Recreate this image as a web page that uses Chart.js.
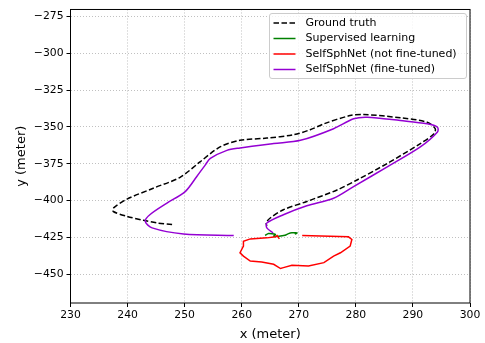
<!DOCTYPE html>
<html>
<head>
<meta charset="utf-8">
<script src="https://cdn.jsdelivr.net/npm/chart.js@4.4.1/dist/chart.umd.min.js"></script>
<style>
    html, body { margin: 0; padding: 0; background: #fff; }
    #wrap { width: 485px; height: 343px; }
</style>
</head>
<body>
<div id="wrap"><canvas id="chart"></canvas></div>
<script>

// Axis ticks
const xTicks = [ 230, 240, 250, 260, 270, 280, 290, 300 ];
const yTicks = [ -450, -425, -400, -375, -350, -325, -300, -275 ];

// Ground truth (dashed)
const gtX = [ 247.8, 245.2, 242.8, 239.8, 237.5, 237.5, 239.9, 244.5, 249.2, 252.7, 256.2, 259.7, 264.4, 269.1, 272.0, 274.4, 279.0, 281.4, 287.8, 292.5, 293.9, 293.7, 291.3, 285.5, 280.2, 276.7, 271.4, 267.3, 265.0, 264.3, 264.4 ];
const gtY = [ -416.3, -415.2, -413.4, -410.6, -407.4, -405.1, -399.0, -391.6, -384.2, -373.7, -363.6, -359.1, -357.6, -355.3, -351.9, -347.9, -342.3, -341.6, -343.8, -346.8, -351.2, -354.6, -361.3, -374.8, -386.0, -392.8, -400.6, -406.2, -411.8, -415.0, -417.2 ];

// Supervised learning
const slX = [ 264.1, 264.7, 265.9, 265.6, 266.5, 267.6, 268.2, 268.8, 269.7, 269.3 ];
const slY = [ -423.7, -422.4, -423.0, -424.2, -424.2, -423.5, -422.4, -421.9, -421.9, -422.8 ];

// SelfSphNet (not fine-tuned)
const nfX = [ 270.6, 275.5, 278.7, 279.3, 279.0, 277.3, 276.1, 274.4, 271.7, 268.8, 267.3, 266.8, 265.6, 263.5, 261.5, 260.3, 259.7, 260.3, 260.3, 261.5, 264.4, 265.9, 266.2, 266.6 ];
const nfY = [ -423.7, -424.2, -424.6, -426.4, -430.9, -435.4, -437.7, -442.1, -444.4, -443.9, -445.5, -446.1, -443.2, -441.7, -441.0, -437.7, -435.4, -430.9, -427.6, -426.0, -425.3, -424.6, -423.7, -426.0 ];

// SelfSphNet (fine-tuned)
const ftX = [ 265.5, 264.4, 264.4, 267.3, 271.4, 276.1, 279.6, 285.5, 291.3, 294.3, 294.3, 292.5, 287.8, 282.0, 279.6, 276.1, 270.3, 265.6, 259.7, 257.4, 254.5, 253.6, 252.1, 250.1, 246.9, 243.9, 243.1, 244.3, 249.8, 258.6 ];
const ftY = [ -421.9, -418.5, -415.2, -409.6, -403.5, -398.4, -390.5, -377.1, -363.6, -353.5, -350.2, -347.9, -345.7, -343.4, -344.5, -351.2, -359.1, -361.3, -364.3, -365.9, -371.4, -375.9, -383.8, -393.9, -401.7, -409.6, -414.1, -418.5, -422.6, -423.7 ];

const FONT = '"DejaVu Sans", sans-serif';

const toPoints = ( xs, ys ) => xs.map( ( x, i ) => ( { x: x, y: ys[ i ] } ) );
const fmt = v => String( v ).replace( '-', '\u2212' );

const series = [
    { label: 'Ground truth', x: gtX, y: gtY, color: '#000000', dash: [ 5.5, 2.5 ], order: 4, tension: 0.3 },
    { label: 'Supervised learning', x: slX, y: slY, color: '#008000', dash: [], order: 3, tension: 0.2 },
    { label: 'SelfSphNet (not fine-tuned)', x: nfX, y: nfY, color: '#ff0000', dash: [], order: 2, tension: 0 },
    { label: 'SelfSphNet (fine-tuned)', x: ftX, y: ftY, color: '#9400d3', dash: [], order: 1, tension: 0.3 }
];

// Frame round the plot area and the legend box, matplotlib style
const framePlugin = {
    id: 'frame',
    afterDraw ( chart ) {

        const { ctx, chartArea: a } = chart;

        ctx.save();
        ctx.strokeStyle = '#000';
        ctx.lineWidth = 1;
        ctx.strokeRect( a.left, a.top, a.right - a.left, a.bottom - a.top );

        // Legend
        const bx = 269.5, by = 13.5, bw = 197, bh = 65;
        ctx.fillStyle = 'rgba(255,255,255,0.8)';
        ctx.strokeStyle = '#cccccc';
        ctx.beginPath();
        ctx.roundRect( bx, by, bw, bh, 2.5 );
        ctx.fill();
        ctx.stroke();

        ctx.font = '11px ' + FONT;
        ctx.textBaseline = 'middle';
        ctx.textAlign = 'left';

        series.forEach( ( s, i ) => {

            const cy = by + 9.5 + i * 15.5;

            ctx.strokeStyle = s.color;
            ctx.lineWidth = 1.5;
            ctx.setLineDash( s.dash );
            ctx.beginPath();
            ctx.moveTo( bx + 4, cy );
            ctx.lineTo( bx + 26, cy );
            ctx.stroke();
            ctx.setLineDash( [] );

            ctx.fillStyle = '#000';
            ctx.fillText( s.label, bx + 36, cy );

        } );

        ctx.restore();

    }
};

new Chart( document.getElementById( 'chart' ), {
    type: 'scatter',
    data: {
        datasets: series.map( s => ( {
            label: s.label,
            data: toPoints( s.x, s.y ),
            showLine: true,
            borderColor: s.color,
            backgroundColor: s.color,
            borderWidth: 1.5,
            borderDash: s.dash,
            pointRadius: 0,
            tension: s.tension,
            order: s.order
        } ) )
    },
    options: {
        responsive: true,
        maintainAspectRatio: false,
        animation: false,
        layout: { padding: { top: 7, right: 15, left: 0, bottom: 0 } },
        plugins: {
            legend: { display: false },
            tooltip: { enabled: false }
        },
        scales: {
            x: {
                type: 'linear',
                min: 230,
                max: 300,
                afterBuildTicks: scale => { scale.ticks = xTicks.map( v => ( { value: v } ) ); },
                afterFit: scale => { scale.height = 40; },
                border: { display: false, dash: [ 1, 2 ] },
                grid: { color: '#b0b0b0', lineWidth: 0.8, tickColor: '#000', tickLength: 4, tickWidth: 1 },
                ticks: {
                    color: '#000',
                    padding: 2,
                    maxRotation: 0,
                    font: { family: FONT, size: 10.8 },
                    callback: v => fmt( v )
                },
                title: {
                    display: true,
                    text: 'x (meter)',
                    color: '#000',
                    font: { family: FONT, size: 13 },
                    padding: { top: 0, bottom: 1 }
                }
            },
            y: {
                type: 'linear',
                min: -469.5,
                max: -270.3,
                afterBuildTicks: scale => { scale.ticks = yTicks.map( v => ( { value: v } ) ); },
                afterFit: scale => { scale.width = 70.5; },
                border: { display: false, dash: [ 1, 2 ] },
                grid: { color: '#b0b0b0', lineWidth: 0.8, tickColor: '#000', tickLength: 4, tickWidth: 1 },
                ticks: {
                    color: '#000',
                    padding: 3,
                    font: { family: FONT, size: 10.8 },
                    callback: v => fmt( v )
                },
                title: {
                    display: true,
                    text: 'y (meter)',
                    color: '#000',
                    font: { family: FONT, size: 13 },
                    padding: { top: 14, bottom: 0 }
                }
            }
        }
    },
    plugins: [ framePlugin ]
} );

</script>
</body>
</html>
